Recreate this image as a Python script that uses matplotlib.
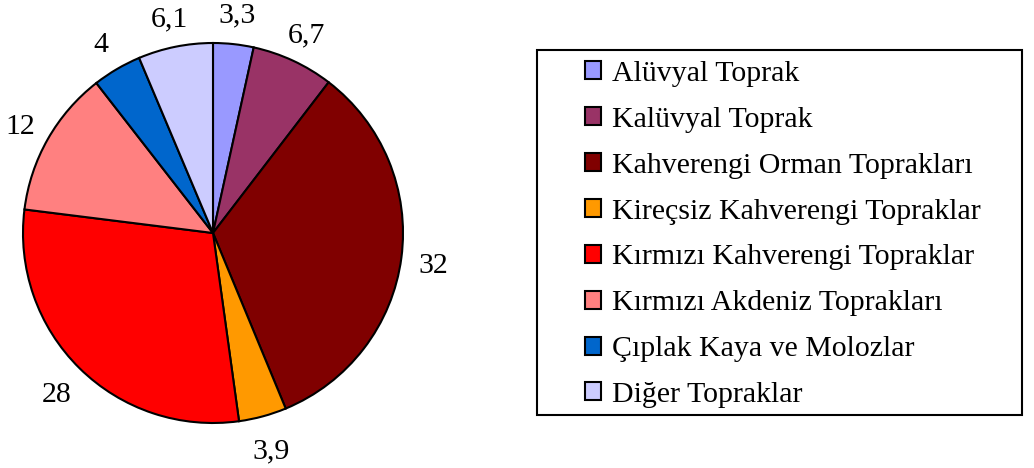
import matplotlib
matplotlib.use('Agg')
import matplotlib.pyplot as plt
from matplotlib.patches import Rectangle
import numpy as np

plt.rcParams['font.family'] = ['Liberation Serif', 'DejaVu Serif']

# Data
categories = ['Alüvyal Toprak', 'Kalüvyal Toprak', 'Kahverengi Orman Toprakları',
              'Kireçsiz Kahverengi Topraklar', 'Kırmızı Kahverengi Topraklar',
              'Kırmızı Akdeniz Toprakları', 'Çıplak Kaya ve Molozlar', 'Diğer Topraklar']
values = [3.3, 6.7, 32, 3.9, 28, 12, 4, 6.1]
value_labels = ['3,3', '6,7', '32', '3,9', '28', '12', '4', '6,1']
colors = ['#9999FF', '#993366', '#800000', '#FF9900', '#FF0000', '#FF8080', '#0066CC', '#CCCCFF']

W, H = 1034, 468
fig = plt.figure(figsize=(W / 100, H / 100), dpi=100)

# pie axes: center ~(213, 233), radius ~190 px
cx, cy, r = 213, 233, 190
ax = fig.add_axes([(cx - r) / W, (H - cy - r) / H, 2 * r / W, 2 * r / H])
wedges, _ = ax.pie(values, colors=colors, startangle=90, counterclock=False,
                   radius=1, wedgeprops=dict(edgecolor='black', linewidth=1.5))
ax.set_xlim(-1, 1)
ax.set_ylim(-1, 1)
ax.set_aspect('equal')
ax.axis('off')

# value labels outside the wedges
for w, lab in zip(wedges, value_labels):
    ang = np.deg2rad((w.theta1 + w.theta2) / 2)
    ax.text(1.17 * np.cos(ang), 1.17 * np.sin(ang) - 0.02, lab, ha='center', va='center',
            fontsize=21.5, clip_on=False)

# legend box
fig.patches.append(Rectangle((537 / W, (H - 415) / H), (1022 - 537) / W, (415 - 50) / H,
                             transform=fig.transFigure, fill=False, edgecolor='black',
                             linewidth=1.5))
leg = fig.legend(wedges, categories, loc='upper left',
                 bbox_to_anchor=(585 / W, (H - 61) / H), frameon=False,
                 fontsize=21.5, handlelength=0.55, handleheight=0.55, handletextpad=0.35,
                 labelspacing=0.665, borderpad=0, borderaxespad=0)
for h in leg.legend_handles:
    h.set_linewidth(1.5)

plt.savefig('out.png', dpi=100)
